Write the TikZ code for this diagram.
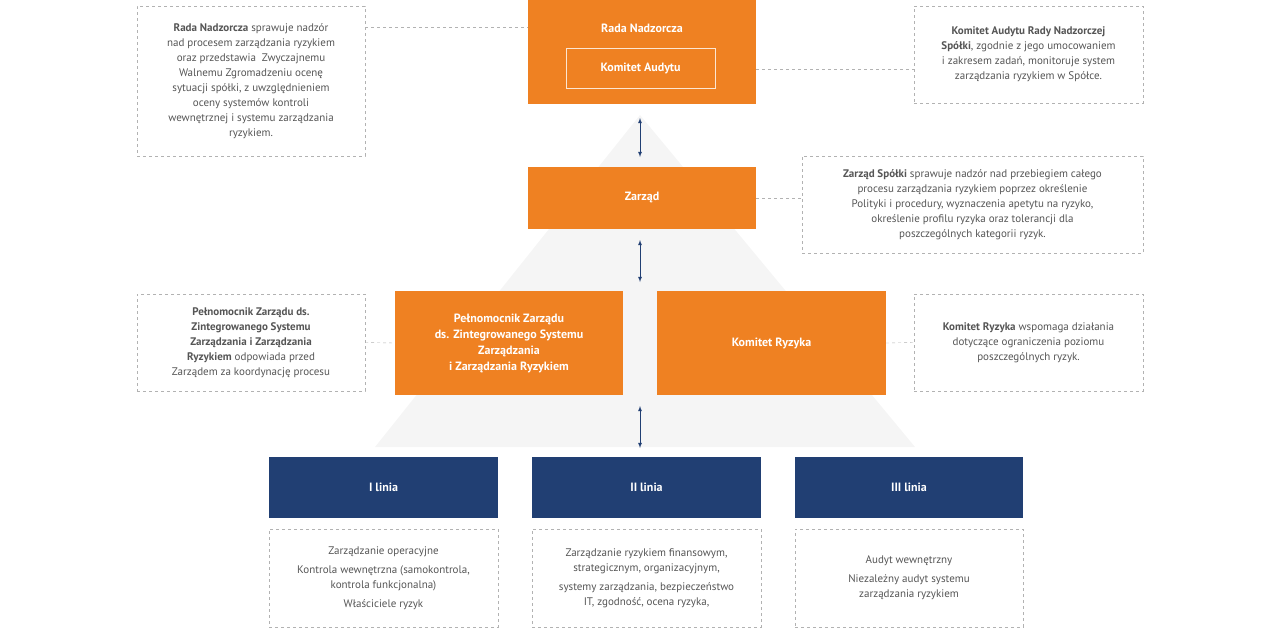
\documentclass[tikz,border=0pt]{standalone}
\usepackage{fontspec}
\setmainfont{PT Sans}
\begin{document}
\begin{tikzpicture}[x=1pt,y=-1pt,
  every node/.style={font=\fontsize{11}{15}\selectfont},
  org/.style={fill=orng,draw=none,text=white,font=\fontsize{12}{16}\selectfont\bfseries,align=center},
  nav/.style={fill=navy,draw=none,text=white,font=\fontsize{12}{16}\selectfont\bfseries,align=center},
  note/.style={draw=gray!60,dashed,text=txt,align=center},
  conn/.style={draw=gray!60,dashed},
  arr/.style={draw=navy,thick,<->,>=latex}]
\definecolor{orng}{HTML}{EF8122}
\definecolor{navy}{HTML}{213F73}
\definecolor{txt}{HTML}{555555}
\useasboundingbox (0,0) rectangle (1280,627);
\fill[black!4] (640,115) -- (915,447) -- (375,447) -- cycle;
% orange boxes
\path[org] (528,0) rectangle (756,104);
\node[org,fill=none] (rn) at (642,28) {Rada Nadzorcza};
\node[draw=white!80!orng,text=white,font=\fontsize{12}{16}\selectfont\bfseries,minimum width=149pt,minimum height=40pt] (ka) at (640.5,68) {Komitet Audytu};
\coordinate (rnL) at (528,27); \coordinate (rnR) at (756,69);
\coordinate (rnB) at (640,104);
\node[org,minimum width=228pt,minimum height=62pt] (z) at (642,198) {Zarząd};
\node[org,minimum width=228pt,minimum height=104pt] (p) at (509,343) {Pełnomocnik Zarządu\\ds. Zintegrowanego Systemu\\Zarządzania\\i Zarządzania Ryzykiem};
\node[org,minimum width=229pt,minimum height=104pt] (kr) at (771.5,343) {Komitet Ryzyka};
% notes
\node[note,minimum width=228pt,minimum height=150pt] (n1) at (251,81) {\textbf{Rada Nadzorcza} sprawuje nadzór\\nad procesem zarządzania ryzykiem\\oraz przedstawia\ \ Zwyczajnemu\\Walnemu Zgromadzeniu ocenę\\sytuacji spółki, z uwzględnieniem\\oceny systemów kontroli\\wewnętrznej i systemu zarządzania\\ryzykiem.};
\node[note,minimum width=229pt,minimum height=97pt] (n2) at (1028.5,54.5) {\textbf{Komitet Audytu Rady Nadzorczej}\\\textbf{Spółki}, zgodnie z jego umocowaniem\\i zakresem zadań, monitoruje system\\zarządzania ryzykiem w Spółce.};
\node[note,minimum width=341pt,minimum height=97pt] (n3) at (972.5,204.5) {\textbf{Zarząd Spółki} sprawuje nadzór nad przebiegiem całego\\procesu zarządzania ryzykiem poprzez określenie\\Polityki i procedury, wyznaczenia apetytu na ryzyko,\\określenie profilu ryzyka oraz tolerancji dla\\poszczególnych kategorii ryzyk.};
\node[note,minimum width=228pt,minimum height=97pt] (n4) at (251,342.5) {\textbf{Pełnomocnik Zarządu ds.}\\\textbf{Zintegrowanego Systemu}\\\textbf{Zarządzania i Zarządzania}\\\textbf{Ryzykiem} odpowiada przed\\Zarządem za koordynację procesu};
\node[note,minimum width=229pt,minimum height=97pt] (n5) at (1028.5,342.5) {\textbf{Komitet Ryzyka} wspomaga działania\\dotyczące ograniczenia poziomu\\poszczególnych ryzyk.};
% connectors
\draw[conn] (n1.east|-rnL) -- (rnL);
\draw[conn] (rnR) -- (n2.west|-rnR);
\draw[conn] (z.east) -- (n3.west|-z.east);
\draw[conn] (n4.east) -- (p.west);
\draw[conn] (kr.east) -- (n5.west);
% navy
\node[nav,minimum width=229pt,minimum height=61pt] (l1) at (383.5,487.5) {I linia};
\node[nav,minimum width=229pt,minimum height=61pt] (l2) at (646.5,487.5) {II linia};
\node[nav,minimum width=228pt,minimum height=61pt] (l3) at (909,487.5) {III linia};
\node[note,minimum width=229pt,minimum height=98pt] (d1) at (383.5,578) {Zarządzanie operacyjne\\[4pt]Kontrola wewnętrzna (samokontrola,\\kontrola funkcjonalna)\\[4pt]Właściciele ryzyk};
\node[note,minimum width=229pt,minimum height=98pt] (d2) at (646.5,578) {Zarządzanie ryzykiem finansowym,\\strategicznym, organizacyjnym,\\[4pt]systemy zarządzania, bezpieczeństwo\\IT, zgodność, ocena ryzyka,};
\node[note,minimum width=228pt,minimum height=98pt] (d3) at (909,578) {Audyt wewnętrzny\\[4pt]Niezależny audyt systemu\\zarządzania ryzykiem};
% arrows
\coordinate (a1) at (640,118); \coordinate (a2) at (640,157);
\coordinate (a3) at (640,240); \coordinate (a4) at (640,282);
\coordinate (a5) at (640,406); \coordinate (a6) at (640,448);
\draw[arr] (a1) -- (a2);
\draw[arr] (a3) -- (a4);
\draw[arr] (a5) -- (a6);
\end{tikzpicture}
\end{document}
